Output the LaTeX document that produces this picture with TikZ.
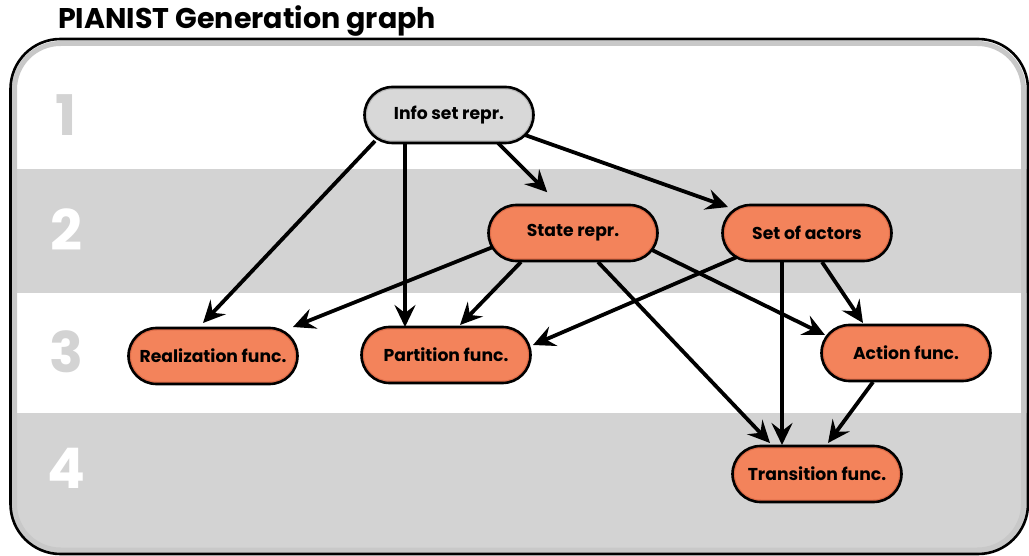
\documentclass[tikz,border=0pt]{standalone}
\usepackage{fontspec}
\setmainfont{Poppins}
\usetikzlibrary{arrows.meta,shapes.misc}
\definecolor{bandgray}{RGB}{211,211,211}
\definecolor{framegray}{RGB}{200,200,200}
\definecolor{nodeorange}{RGB}{243,131,91}
\definecolor{rimorange}{RGB}{222,108,72}
\definecolor{infogray}{RGB}{216,216,216}
\definecolor{inforim}{RGB}{185,185,185}
\definecolor{numgray}{RGB}{211,211,211}
\tikzset{
  box/.style={rounded rectangle, draw=black, line width=2.6pt, fill=nodeorange,
    minimum width=169pt, minimum height=56pt, inner sep=0pt,
    font=\fontsize{17.2}{20}\selectfont\bfseries,
    path picture={\draw[rimorange, line width=5pt, rounded corners=28pt]
      (path picture bounding box.south west) rectangle (path picture bounding box.north east);}},
  infobox/.style={box, fill=infogray,
    path picture={\draw[inforim, line width=5pt, rounded corners=28pt]
      (path picture bounding box.south west) rectangle (path picture bounding box.north east);}},
  arr/.style={line width=3.8pt, -{Stealth[length=22pt,width=21pt,inset=8pt]}},
  bandnum/.style={font=\fontsize{56}{56}\selectfont\bfseries},
}
\begin{document}
\begin{tikzpicture}[x=1pt,y=-1pt]
\useasboundingbox (0,0) rectangle (1029,556);
% bands
\begin{scope}
  \clip[rounded corners=48pt] (11,40) rectangle (1027,553);
  \fill[white] (0,0) rectangle (1029,556);
  \fill[bandgray] (0,169) rectangle (1029,293);
  \fill[bandgray] (0,413) rectangle (1029,556);
\end{scope}
\draw[framegray, line width=5pt, rounded corners=46pt] (14.5,43.5) rectangle (1023.5,550);
\draw[black, line width=2.6pt, rounded corners=50pt] (10.5,39) rectangle (1028,554);
% title
\node[anchor=base west, inner sep=0pt, font=\fontsize{28.5}{32}\selectfont\bfseries] (title) at (58,29) {PIANIST Generation graph};
% band numbers
\node[bandnum, text=numgray] (n1) at (66,115) {1};
\node[bandnum, text=white] (n2) at (66,230) {2};
\node[bandnum, text=numgray] (n3) at (66,352) {3};
\node[bandnum, text=white] (n4) at (66,468) {4};
% nodes
\node[infobox] (info) at (449,115) {Info set repr.};
\node[box] (state) at (573,233) {State repr.};
\node[box] (actors) at (807,233) {Set of actors};
\node[box] (real) at (213,356) {Realization func.};
\node[box] (part) at (446,355) {Partition func.};
\node[box] (action) at (906,353) {Action func.};
\node[box] (trans) at (817,474) {Transition func.};
% edges
\draw[arr] ([shift={(-74,26)}]info.center) -- ([shift={(-10,-33)}]real.center);
\draw[arr] ([shift={(-44,28)}]info.center) -- ([shift={(-41,-28)}]part.center);
\draw[arr, shorten >=18pt] ([shift={(49,28)}]info.center) -- ([shift={(-13,-28)}]state.center);
\draw[arr] ([shift={(76,20)}]info.center) -- ([shift={(-79,-26)}]actors.center);
\draw[arr] ([shift={(-80,14)}]state.center) -- ([shift={(80,-29)}]real.center);
\draw[arr] ([shift={(-52,29)}]state.center) -- ([shift={(14,-30)}]part.center);
\draw[arr] ([shift={(79,17)}]state.center) -- ([shift={(-81,-18)}]action.center);
\draw[arr] ([shift={(25,29)}]state.center) -- ([shift={(-47,-31)}]trans.center);
\draw[arr] ([shift={(-70,24)}]actors.center) -- ([shift={(87,-10)}]part.center);
\draw[arr] ([shift={(-25,29)}]actors.center) -- ([shift={(-35,-29)}]trans.center);
\draw[arr] ([shift={(15,29)}]actors.center) -- ([shift={(-43,-30)}]action.center);
\draw[arr] ([shift={(-33,29)}]action.center) -- ([shift={(11,-31)}]trans.center);
\end{tikzpicture}
\end{document}
